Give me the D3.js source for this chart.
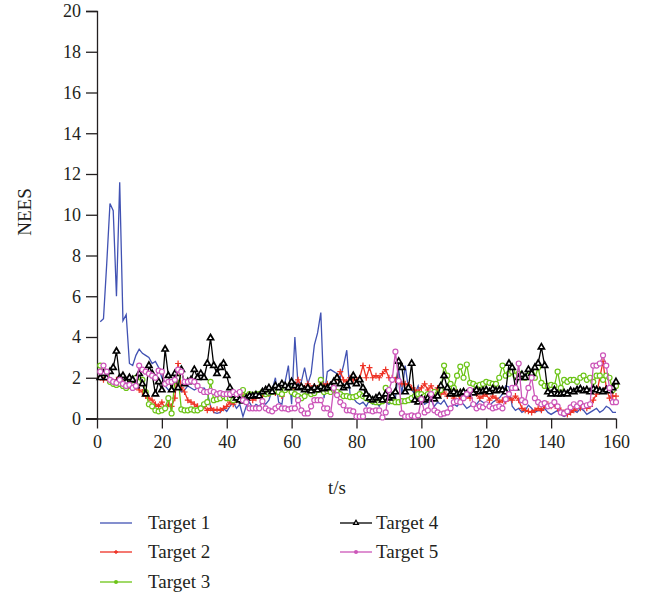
<!DOCTYPE html>
<html>
<head>
<meta charset="utf-8">
<script src="https://cdn.jsdelivr.net/npm/d3@7"></script>
<style>
  body { margin: 0; background: #fff; }
  svg text { font-family: "Liberation Serif", "DejaVu Serif", serif; fill: #231f20; }
</style>
</head>
<body>
<div id="chart"></div>
<script>
// time axis, one sample per second
const times = d3.range(1, 161);

const target1 = [
  4.75, 4.9, 7.6, 10.55, 10.2, 6.0, 11.6, 4.8, 5.1, 2.7,
  2.6, 3.1, 3.4, 3.2, 3.1, 3.0, 2.7, 2.8, 2.5, 2.0,
  1.6, 1.4, 1.5, 1.4, 1.5, 1.3, 1.4, 1.6, 1.5, 1.4,
  1.5, 1.45, 1.5, 1.3, 0.6, 0.3, 0.25, 0.3, 0.5, 0.35,
  0.6, 0.8, 0.5, 0.7, 0.1, 0.6, 0.8, 0.5, 0.7, 0.6,
  0.8, 0.7, 0.9, 1.4, 2.0, 0.8, 0.7, 1.8, 2.6, 0.7,
  4.0, 1.6, 1.8, 2.5, 1.7, 2.2, 3.6, 4.2, 5.2, 1.0,
  2.3, 2.4, 2.3, 2.2, 2.0, 2.6, 3.35, 1.2, 1.0, 0.8,
  0.7, 0.8, 0.6, 0.9, 0.7, 0.8, 0.6, 0.9, 0.8, 0.7,
  0.8, 1.0, 2.4, 1.2, 2.6, 1.5, 1.4, 1.2, 1.6, 1.0,
  0.7, 0.8, 0.9, 0.6, 0.8, 0.7, 0.9, 0.6, 0.5, 0.7,
  0.6, 0.8, 0.7, 0.5, 0.6, 0.8, 0.7, 0.9, 0.8, 0.7,
  0.6, 0.8, 0.9, 1.0, 1.2, 1.6, 1.55, 0.6, 0.4, 0.5,
  0.3, 0.4, 0.65, 0.5, 0.3, 0.4, 0.35, 0.5, 0.3, 0.2,
  0.3, 0.4, 0.2, 0.1, 0.2, 0.3, 0.4, 0.3, 0.5, 0.4,
  0.2, 0.3, 0.4, 0.5, 0.3, 0.4, 0.6, 0.5, 0.3, 0.3
];
const target2 = [
  2.0, 1.9, 2.0, 1.85, 1.8, 1.9, 1.7, 1.75, 1.6, 1.6,
  1.5, 1.55, 1.4, 1.3, 1.1, 1.0, 0.9, 0.7, 0.6, 0.8,
  0.5, 0.7, 0.6, 1.0, 2.7, 1.5, 1.3, 0.9, 0.8, 0.7,
  0.6, 0.5, 0.6, 0.4, 0.5, 0.4, 0.45, 0.4, 0.5, 0.6,
  0.8, 0.7, 0.9, 0.9, 1.1, 1.0, 1.2, 0.9, 1.0, 1.1,
  1.1, 1.2, 1.2, 1.3, 1.25, 1.3, 1.1, 1.4, 1.5, 1.3,
  1.6, 1.9, 1.6, 1.5, 1.7, 1.5, 1.6, 1.5, 1.8, 1.6,
  1.7, 1.6, 1.8, 2.0, 2.3, 1.9, 1.8, 2.0, 1.9, 1.9,
  2.0, 2.6, 2.0, 2.5, 2.0, 2.1, 2.0, 2.2, 2.4, 2.0,
  2.0, 1.9, 1.8, 1.7, 1.7, 1.65, 1.5, 1.4, 1.3, 1.5,
  1.7, 1.4, 1.6, 1.3, 1.5, 1.2, 1.3, 1.1, 1.2, 1.0,
  1.3, 0.9, 1.2, 1.1, 1.0, 1.3, 1.2, 1.0, 1.1, 1.2,
  0.9, 1.1, 1.0, 0.8, 0.9, 0.85, 1.0, 0.9, 1.1, 0.9,
  0.5, 0.4, 0.35, 0.3, 0.4, 0.5, 0.4, 0.6, 0.7, 0.6,
  0.7, 0.5, 0.4, 0.3, 0.2, 0.3, 0.4, 0.5, 0.5, 0.6,
  0.5, 0.6, 0.9, 1.2, 2.0, 2.8, 1.5, 1.0, 1.1, 1.1
];
const target3 = [
  2.6, 2.3, 2.1, 1.8, 1.7, 1.65, 1.7, 1.6, 1.5, 1.75,
  1.9, 2.0, 1.8, 1.9, 1.3, 0.7, 0.6, 0.4, 0.35, 0.4,
  0.5, 1.0, 0.25, 1.85, 2.0, 0.45, 0.4, 0.4, 0.45, 0.4,
  0.4, 0.5, 0.7, 0.8, 1.8, 0.9, 0.95, 1.0, 1.1, 1.0,
  1.0, 0.9, 1.0, 1.1, 1.4, 1.1, 1.2, 1.15, 1.2, 1.2,
  1.3, 1.2, 1.25, 1.3, 1.4, 1.3, 1.2, 1.4, 1.5, 1.3,
  1.2, 1.1, 1.0, 1.1, 1.3, 1.2, 1.25, 1.4, 1.9, 1.3,
  1.35, 1.3, 1.4, 1.3, 1.2, 1.1, 1.1, 1.05, 1.05, 1.1,
  1.2, 1.1, 1.0, 0.95, 0.85, 0.8, 0.8, 0.85, 1.5, 0.9,
  0.85, 0.8, 0.8, 0.85, 0.85, 0.9, 1.0, 1.1, 1.2, 1.2,
  1.1, 1.2, 1.15, 1.3, 1.2, 1.4, 2.6, 2.1, 1.7, 1.5,
  2.1, 2.55, 2.0, 2.65, 1.75, 1.7, 1.6, 1.65, 1.7, 1.8,
  1.75, 1.7, 1.7, 2.0, 2.6, 2.1, 2.2, 2.3, 2.1, 2.2,
  2.1, 2.0, 2.1, 2.2, 2.0, 2.5, 1.75, 1.6, 1.6, 1.65,
  1.6, 2.3, 1.5, 1.9, 1.8, 1.9, 1.9, 1.8, 2.0, 2.1,
  1.9, 2.0, 1.8, 2.1, 2.1, 1.9, 2.1, 2.0, 1.4, 1.6
];
const target4 = [
  2.0, 2.2, 2.0, 2.3, 2.5, 3.3, 2.0, 2.1, 1.8, 2.0,
  1.9, 1.6, 2.2, 1.7, 1.2, 2.6, 2.2, 1.2, 1.8, 1.4,
  3.4, 2.1, 1.4, 2.2, 1.5, 2.4, 1.7, 1.8, 1.9, 2.4,
  2.0, 2.2, 2.0, 2.7, 3.95, 2.6, 2.2, 2.5, 2.7, 2.1,
  1.5, 1.15, 1.0, 0.9, 0.85, 1.0, 1.1, 1.1, 1.15, 1.1,
  1.3, 1.4, 1.5, 1.3, 1.6, 1.5, 1.7, 1.6, 1.5, 1.8,
  1.6, 1.5, 1.55, 1.4, 1.5, 1.35, 1.5, 1.4, 1.55, 1.45,
  1.5, 1.6, 1.8, 2.0, 1.7, 1.5, 1.6, 1.8, 2.1, 1.7,
  1.9, 1.5, 1.2, 1.0, 0.9, 1.0, 1.1, 0.9, 1.2, 1.0,
  1.1, 1.3, 2.8, 2.5, 1.3, 1.5, 2.7, 0.9, 0.8, 0.95,
  0.9, 1.0, 1.0, 0.95, 1.1, 1.6, 2.1, 1.5, 1.2, 1.3,
  1.2, 1.25, 1.3, 1.2, 1.3, 1.25, 1.4, 1.3, 1.35, 1.4,
  1.3, 1.45, 1.35, 1.4, 1.4, 1.3, 2.7, 2.5, 1.5, 2.0,
  2.15, 2.0, 2.4, 2.2, 2.5, 2.7, 3.5, 2.6, 1.3, 1.2,
  1.4, 1.2, 1.2, 1.25, 1.2, 1.35, 1.3, 1.4, 1.45, 1.35,
  1.4, 1.3, 1.45, 1.4, 1.35, 1.3, 1.4, 1.35, 1.5, 1.8
];
const target5 = [
  2.3, 2.6, 2.3, 1.9, 1.8, 1.75, 1.9, 1.7, 1.6, 1.65,
  1.5, 1.6, 2.6, 2.4, 2.3, 2.2, 2.1, 2.0, 2.35, 2.3,
  1.7, 1.8, 1.8, 1.9, 2.4, 2.3, 1.8, 1.8, 1.85, 1.8,
  1.6, 1.4, 1.3, 1.3, 1.35, 1.3, 1.2, 1.25, 1.2, 1.2,
  1.2, 1.3, 1.2, 1.3, 0.9, 0.8, 0.5, 0.5, 0.5, 0.5,
  0.85, 0.5, 0.4, 0.35, 0.5, 0.6, 0.5, 0.5, 0.45, 0.5,
  0.5, 0.9, 0.4, 0.25, 0.25, 0.6, 0.9, 0.9, 0.9, 0.5,
  0.5, 0.2, 1.5, 1.15, 0.8, 0.65, 0.4, 0.4, 0.35, 0.1,
  0.1, 0.1, 0.4, 0.4, 0.35, 0.4, 0.4, 0.05, 0.3, 1.4,
  1.9, 3.28, 1.85, 0.25, 0.1, 0.1, 0.15, 0.1, 0.15, 0.95,
  0.3, 0.4, 1.2, 0.4, 0.3, 0.2, 0.25, 0.3, 0.5, 0.8,
  0.85, 0.8, 1.0, 1.2, 1.4, 0.7, 0.5, 0.6, 0.55, 0.7,
  0.6, 0.5, 0.55, 0.6, 0.5, 0.95, 1.2, 1.5, 1.5, 2.7,
  0.9, 0.8, 1.5, 2.0, 1.0, 0.8, 0.7, 0.75, 0.6, 0.65,
  0.8, 0.6, 0.3, 0.25, 0.35, 0.55, 0.7, 0.6, 0.75, 0.6,
  0.65, 0.7, 2.6, 2.6, 2.7, 3.1, 2.6, 1.5, 0.8, 0.8
];

const seriesNames = ["Target 1", "Target 2", "Target 3", "Target 4", "Target 5"];
const seriesColors = ["#4152b3", "#ee3124", "#6cc417", "#000000", "#cc55b9"];
const seriesMarkers = ["none", "plus", "circle", "triangle", "circle"];
const yTicks = [0, 2, 4, 6, 8, 10, 12, 14, 16, 18, 20];
const xTicks = [0, 20, 40, 60, 80, 100, 120, 140, 160];

const allSeries = [target1, target2, target3, target4, target5].map((vals, i) => ({
  name: seriesNames[i],
  color: seriesColors[i],
  marker: seriesMarkers[i],
  values: vals.map((v, j) => ({ t: times[j], v: v }))
}));

const width = 657, height = 601;
const svg = d3.select("#chart").append("svg")
  .attr("width", width)
  .attr("height", height);

const x = d3.scaleLinear().domain([0, 160]).range([97, 616]);
const y = d3.scaleLinear().domain([0, 20]).range([418.5, 11]);

// axes
const yAxis = svg.append("g")
  .attr("transform", "translate(97,0)")
  .call(d3.axisLeft(y).tickValues(yTicks).tickSize(11).tickPadding(5));
const xAxis = svg.append("g")
  .attr("transform", "translate(0,418.5)")
  .call(d3.axisBottom(x).tickValues(xTicks).tickSize(10).tickPadding(7));

[xAxis, yAxis].forEach(a => {
  a.select(".domain").attr("stroke", "#231f20").attr("stroke-width", 1.3);
  a.selectAll(".tick line").attr("stroke", "#231f20").attr("stroke-width", 1.3);
  a.selectAll(".tick text").attr("font-size", 18)
    .attr("font-family", "Liberation Serif, serif").attr("fill", "#231f20");
});
xAxis.select(".domain").attr("d", "M86,0.5H616");

svg.append("text")
  .attr("transform", "translate(31,212) rotate(-90)")
  .attr("text-anchor", "middle")
  .attr("font-size", 19)
  .text("NEES");
svg.append("text")
  .attr("x", 337).attr("y", 494)
  .attr("text-anchor", "middle")
  .attr("font-size", 19)
  .text("t/s");

const line = d3.line().x(d => x(d.t)).y(d => y(d.v));
const triangle = d3.symbol().type(d3.symbolTriangle).size(16);

function drawMarkers(g, s, pts) {
  if (s.marker === "plus") {
    g.selectAll("path.m").data(pts).join("path")
      .attr("class", "m")
      .attr("d", d => `M${x(d.t) - 3},${y(d.v)}H${x(d.t) + 3}M${x(d.t)},${y(d.v) - 3}V${y(d.v) + 3}`)
      .attr("stroke", s.color).attr("stroke-width", 1.2);
  } else if (s.marker === "circle") {
    g.selectAll("circle").data(pts).join("circle")
      .attr("cx", d => x(d.t)).attr("cy", d => y(d.v)).attr("r", 2.5)
      .attr("fill", "#fff").attr("stroke", s.color).attr("stroke-width", 1.2);
  } else if (s.marker === "triangle") {
    g.selectAll("path.m").data(pts).join("path")
      .attr("class", "m")
      .attr("transform", d => `translate(${x(d.t)},${y(d.v)})`)
      .attr("d", triangle)
      .attr("fill", "#fff").attr("stroke", s.color).attr("stroke-width", 1.7);
  }
}

allSeries.forEach(s => {
  const g = svg.append("g");
  g.append("path")
    .datum(s.values)
    .attr("d", line)
    .attr("fill", "none")
    .attr("stroke", s.color)
    .attr("stroke-width", 1.3);
  drawMarkers(g, s, s.values);
});

// legend
const legendPos = [
  { lx: 100, tx: 148, y: 523 },
  { lx: 100, tx: 148, y: 552 },
  { lx: 100, tx: 148, y: 582 },
  { lx: 340, tx: 376, y: 523 },
  { lx: 340, tx: 376, y: 552 }
];
allSeries.forEach((s, i) => {
  const p = legendPos[i];
  const g = svg.append("g");
  g.append("line")
    .attr("x1", p.lx).attr("x2", p.lx + 32)
    .attr("y1", p.y).attr("y2", p.y)
    .attr("stroke", s.color).attr("stroke-width", 1.3);
  const cx = p.lx + 16;
  if (s.marker === "plus") {
    g.append("path").attr("d", `M${cx - 2},${p.y}H${cx + 2}M${cx},${p.y - 2}V${p.y + 2}`)
      .attr("stroke", s.color).attr("stroke-width", 1.3);
  } else if (s.marker === "circle") {
    g.append("circle").attr("cx", cx).attr("cy", p.y).attr("r", 2)
      .attr("fill", s.color);
  } else if (s.marker === "triangle") {
    g.append("path").attr("transform", `translate(${cx},${p.y})`)
      .attr("d", d3.symbol().type(d3.symbolTriangle).size(10))
      .attr("fill", "#fff").attr("stroke", s.color).attr("stroke-width", 1.3);
  }
  g.append("text")
    .attr("x", p.tx).attr("y", p.y + 6)
    .attr("font-size", 19)
    .text(s.name);
});
</script>
</body>
</html>
